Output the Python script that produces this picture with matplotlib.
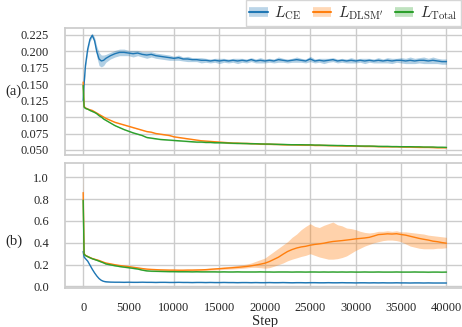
import matplotlib
matplotlib.use("Agg")
import matplotlib.pyplot as plt
from matplotlib.lines import Line2D
import seaborn as sns
import numpy as np

sns.set_theme(style="whitegrid")
plt.rcParams['font.family'] = 'serif'
plt.rcParams['font.serif'] = ['Liberation Serif', 'DejaVu Serif']
plt.rcParams['mathtext.fontset'] = 'cm'

# training steps (denser at the start)
steps = [0, 100, 250, 500, 750, 1000, 1250, 1500, 1750, 2000, 2250, 2500, 3000, 3500] + list(range(4000, 40001, 500))

# ---- panel (a) ----
a_ce = [0.125, 0.150, 0.178, 0.203, 0.218, 0.224, 0.216, 0.199, 0.188, 0.185, 0.186, 0.189, 0.193, 0.196,
        0.198, 0.198, 0.197, 0.196, 0.197, 0.195, 0.194, 0.195, 0.193, 0.192,
        0.191, 0.190, 0.189, 0.190, 0.188, 0.188, 0.187, 0.187, 0.186, 0.186,
        0.185, 0.186, 0.185, 0.186, 0.185, 0.186, 0.185, 0.186, 0.185, 0.187,
        0.185, 0.186, 0.185, 0.186, 0.185, 0.187, 0.186, 0.185, 0.186, 0.187,
        0.186, 0.185, 0.188, 0.185, 0.186, 0.185, 0.186, 0.187, 0.185, 0.186,
        0.185, 0.186, 0.185, 0.186, 0.185, 0.186, 0.185, 0.186, 0.185, 0.186,
        0.185, 0.186, 0.186, 0.185, 0.186, 0.185, 0.186, 0.186, 0.185, 0.186,
        0.185, 0.184, 0.184]
a_ce_sd = [0.003, 0.004, 0.004, 0.004, 0.003, 0.003, 0.005, 0.008, 0.010, 0.009, 0.008, 0.006, 0.005, 0.005,
           0.005, 0.005, 0.004, 0.005, 0.004, 0.004, 0.005, 0.004, 0.004, 0.004,
           0.004, 0.004, 0.003, 0.004, 0.003, 0.004, 0.003, 0.003, 0.004, 0.003,
           0.003, 0.003, 0.004, 0.003, 0.003, 0.003, 0.004, 0.003, 0.003, 0.003,
           0.003, 0.004, 0.003, 0.003, 0.003, 0.004, 0.003, 0.003, 0.003, 0.004,
           0.003, 0.003, 0.004, 0.003, 0.003, 0.004, 0.003, 0.003, 0.003, 0.003,
           0.003, 0.004, 0.003, 0.003, 0.004, 0.003, 0.003, 0.004, 0.003, 0.004,
           0.004, 0.003, 0.004, 0.004, 0.005, 0.004, 0.004, 0.005, 0.004, 0.005,
           0.004, 0.004, 0.004]
a_dlsm = [0.153, 0.116, 0.114, 0.112, 0.111, 0.110, 0.108, 0.106, 0.104, 0.102, 0.100, 0.098, 0.095, 0.092,
          0.090, 0.088, 0.086, 0.084, 0.082, 0.080, 0.078, 0.077, 0.075, 0.074,
          0.073, 0.072, 0.070, 0.069, 0.068, 0.067, 0.066, 0.065, 0.064, 0.0635,
          0.063, 0.0625, 0.062, 0.0615, 0.061, 0.0605, 0.0605, 0.060, 0.060, 0.0598,
          0.0595, 0.059, 0.059, 0.0588, 0.0585, 0.0585, 0.058, 0.058, 0.058, 0.0578,
          0.0575, 0.0575, 0.0575, 0.057, 0.057, 0.057, 0.0568, 0.0565, 0.0565, 0.0562,
          0.056, 0.056, 0.056, 0.0558, 0.0555, 0.0555, 0.0555, 0.0552, 0.055, 0.055,
          0.055, 0.055, 0.0548, 0.0545, 0.0545, 0.0542, 0.054, 0.054, 0.054, 0.0538,
          0.0535, 0.0535, 0.0535]
a_total = [0.148, 0.115, 0.113, 0.112, 0.110, 0.1085, 0.107, 0.105, 0.102, 0.100, 0.097, 0.095, 0.091, 0.087,
           0.084, 0.081, 0.0785, 0.076, 0.074, 0.072, 0.069, 0.068, 0.067, 0.066,
           0.0655, 0.065, 0.0645, 0.064, 0.0635, 0.063, 0.0625, 0.062, 0.062, 0.0615,
           0.0615, 0.061, 0.061, 0.0608, 0.0605, 0.0602, 0.060, 0.060, 0.0598, 0.0595,
           0.0595, 0.0592, 0.059, 0.059, 0.0588, 0.0585, 0.0585, 0.0582, 0.058, 0.058,
           0.058, 0.0578, 0.0578, 0.0575, 0.0575, 0.0572, 0.057, 0.057, 0.0568, 0.0568,
           0.0565, 0.0565, 0.0562, 0.056, 0.056, 0.056, 0.0558, 0.0555, 0.0555, 0.0555,
           0.0552, 0.0552, 0.055, 0.055, 0.055, 0.0548, 0.0548, 0.0545, 0.0545, 0.0545,
           0.0542, 0.0542, 0.054]
a_small_sd = 0.0008

# ---- panel (b) ----
b_ce = [0.32, 0.27, 0.255, 0.232, 0.195, 0.158, 0.125, 0.096, 0.072, 0.056, 0.047, 0.043, 0.040, 0.039,
        0.039, 0.038, 0.039, 0.038, 0.038, 0.039, 0.038, 0.038, 0.037, 0.038,
        0.038, 0.037, 0.037, 0.038, 0.037, 0.037, 0.036, 0.037, 0.037, 0.036,
        0.037, 0.036, 0.036, 0.037, 0.036, 0.036, 0.035, 0.036, 0.036, 0.035,
        0.036, 0.035, 0.035, 0.036, 0.035, 0.035, 0.036, 0.035, 0.034, 0.035,
        0.035, 0.034, 0.035, 0.035, 0.034, 0.034, 0.035, 0.034, 0.034, 0.035,
        0.034, 0.034, 0.033, 0.034, 0.034, 0.033, 0.034, 0.033, 0.034, 0.033,
        0.033, 0.034, 0.033, 0.033, 0.032, 0.033, 0.033, 0.032, 0.033, 0.032,
        0.032, 0.032, 0.032]
b_ce_sd = 0.003
b_dlsm = [0.86, 0.30, 0.285, 0.275, 0.265, 0.256, 0.250, 0.244, 0.238, 0.230, 0.222, 0.215, 0.207, 0.199,
          0.192, 0.187, 0.182, 0.176, 0.170, 0.164, 0.159, 0.156, 0.154, 0.152,
          0.151, 0.150, 0.150, 0.149, 0.149, 0.150, 0.150, 0.151, 0.152, 0.154,
          0.157, 0.160, 0.163, 0.166, 0.169, 0.172, 0.175, 0.179, 0.183, 0.189,
          0.196, 0.204, 0.213, 0.228, 0.248, 0.268, 0.295, 0.320, 0.338, 0.352,
          0.362, 0.368, 0.378, 0.385, 0.390, 0.396, 0.405, 0.412, 0.416, 0.420,
          0.425, 0.430, 0.436, 0.440, 0.444, 0.450, 0.462, 0.475, 0.478, 0.482,
          0.480, 0.483, 0.476, 0.470, 0.460, 0.450, 0.440, 0.432, 0.425, 0.415,
          0.410, 0.402, 0.396]
b_dlsm_up = [0.21, 0.02, 0.008, 0.006, 0.006, 0.006, 0.006, 0.006, 0.006, 0.006, 0.006, 0.006, 0.006, 0.006,
             0.006, 0.006, 0.006, 0.006, 0.006, 0.006, 0.006, 0.006, 0.006, 0.006,
             0.006, 0.006, 0.007, 0.007, 0.007, 0.008, 0.008, 0.009, 0.009, 0.010,
             0.010, 0.011, 0.012, 0.013, 0.014, 0.016, 0.018, 0.020, 0.022, 0.026,
             0.034, 0.041, 0.047, 0.062, 0.072, 0.082, 0.085, 0.090, 0.112, 0.128,
             0.158, 0.182, 0.197, 0.165, 0.150, 0.164, 0.170, 0.178, 0.149, 0.135,
             0.110, 0.100, 0.084, 0.065, 0.051, 0.040, 0.033, 0.030, 0.027, 0.028,
             0.025, 0.027, 0.024, 0.030, 0.035, 0.040, 0.045, 0.048, 0.045, 0.050,
             0.050, 0.053, 0.054]
b_dlsm_dn = [0.06, 0.01, 0.006, 0.006, 0.006, 0.006, 0.006, 0.006, 0.006, 0.006, 0.006, 0.006, 0.006, 0.006,
             0.006, 0.006, 0.006, 0.006, 0.006, 0.006, 0.006, 0.006, 0.006, 0.006,
             0.006, 0.006, 0.006, 0.007, 0.007, 0.007, 0.007, 0.008, 0.008, 0.008,
             0.008, 0.009, 0.010, 0.010, 0.011, 0.012, 0.012, 0.013, 0.013, 0.014,
             0.021, 0.032, 0.046, 0.056, 0.063, 0.068, 0.080, 0.085, 0.088, 0.090,
             0.087, 0.083, 0.078, 0.100, 0.120, 0.136, 0.155, 0.162, 0.161, 0.155,
             0.145, 0.125, 0.106, 0.090, 0.074, 0.065, 0.062, 0.065, 0.058, 0.057,
             0.055, 0.063, 0.066, 0.080, 0.090, 0.090, 0.090, 0.087, 0.080, 0.070,
             0.060, 0.052, 0.041]
b_total = [0.79, 0.295, 0.283, 0.273, 0.263, 0.254, 0.247, 0.240, 0.232, 0.224, 0.216, 0.206, 0.198, 0.190,
           0.183, 0.177, 0.172, 0.166, 0.160, 0.150, 0.143, 0.140, 0.139, 0.138,
           0.137, 0.136, 0.136, 0.135, 0.135, 0.135, 0.134, 0.135, 0.134, 0.134,
           0.134, 0.134, 0.133, 0.134, 0.133, 0.133, 0.134, 0.133, 0.133, 0.133,
           0.133, 0.134, 0.133, 0.133, 0.132, 0.133, 0.133, 0.133, 0.132, 0.133,
           0.133, 0.132, 0.133, 0.133, 0.132, 0.133, 0.132, 0.133, 0.132, 0.133,
           0.132, 0.133, 0.132, 0.132, 0.133, 0.132, 0.132, 0.133, 0.132, 0.132,
           0.132, 0.133, 0.132, 0.132, 0.132, 0.133, 0.132, 0.132, 0.131, 0.132,
           0.132, 0.131, 0.132]
b_total_sd = 0.004

colors = ['#1f77b4', '#ff7f0e', '#2ca02c']
labels = [r'$L_{\mathrm{CE}}$', r'$L_{\mathrm{DLSM}^{\prime}}$', r'$L_{\mathrm{Total}}$']

fig = plt.figure(figsize=(4.62, 3.27), dpi=100)
ax1 = fig.add_axes([0.1407, 0.526, 0.865, 0.3884])
ax2 = fig.add_axes([0.1407, 0.1193, 0.865, 0.3823], sharex=ax1)

x = np.array(steps)


def band(ax, y, lo, hi, c):
    y = np.array(y)
    ax.fill_between(x, y - np.array(lo), y + np.array(hi), color=c, alpha=0.35, lw=0)
    ax.plot(x, y, color=c, lw=1.0)


band(ax1, a_ce, a_ce_sd, a_ce_sd, colors[0])
band(ax1, a_dlsm, a_small_sd, a_small_sd, colors[1])
band(ax1, a_total, a_small_sd, a_small_sd, colors[2])

band(ax2, b_ce, b_ce_sd, b_ce_sd, colors[0])
band(ax2, b_dlsm, b_dlsm_dn, b_dlsm_up, colors[1])
band(ax2, b_total, b_total_sd, b_total_sd, colors[2])

ax1.set_xlim(-2000, 42000)
ax1.set_xticks(range(0, 40001, 5000))
ax1.set_ylim(0.0424, 0.235)
ax1.set_yticks([0.050, 0.075, 0.100, 0.125, 0.150, 0.175, 0.200, 0.225])
ax1.yaxis.set_major_formatter(matplotlib.ticker.FormatStrFormatter('%.3f'))
ax2.set_ylim(-0.014, 1.131)
ax2.set_yticks([0.0, 0.2, 0.4, 0.6, 0.8, 1.0])
ax2.yaxis.set_major_formatter(matplotlib.ticker.FormatStrFormatter('%.1f'))
plt.setp(ax1.get_xticklabels(), visible=False)

for ax in (ax1, ax2):
    ax.tick_params(axis='both', labelsize=9, colors='.15', pad=4.0)
    ax.tick_params(axis='y', pad=5.5)
    for s in ax.spines.values():
        s.set_color('.8')

ax1.set_ylabel('(a)', rotation=0, fontsize=10.5, ha='center', va='center')
ax1.yaxis.set_label_coords(-0.128, 0.5)
ax2.set_ylabel('(b)', rotation=0, fontsize=10.5, ha='center', va='center')
ax2.yaxis.set_label_coords(-0.128, 0.376)
ax2.set_xlabel('Step', fontsize=10.5, va='center')
ax2.xaxis.set_label_coords(0.5, -0.27)

handles = [(Line2D([], [], color=c, lw=7, alpha=0.3, solid_capstyle='butt'),
            Line2D([], [], color=c, lw=1.5)) for c in colors]
fig.legend(handles, labels, loc='lower right', bbox_to_anchor=(0.998, 0.922),
           ncol=3, fontsize=11, frameon=True, edgecolor='.8', fancybox=False,
           borderpad=0.25, handlelength=1.2, columnspacing=0.8, handletextpad=0.4,
           borderaxespad=0.0)

fig.savefig('out.png', dpi=100)
